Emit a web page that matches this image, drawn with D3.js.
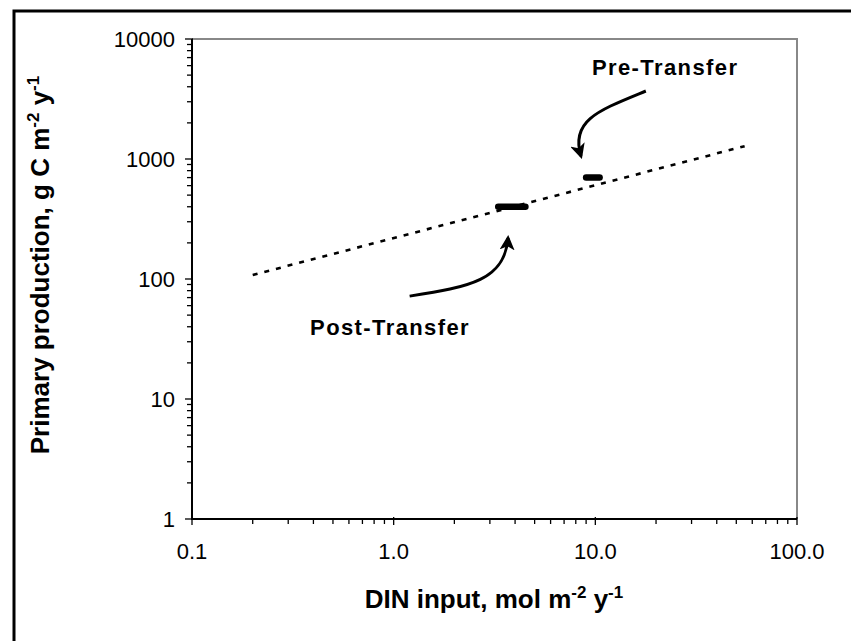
<!DOCTYPE html>
<html>
<head>
<meta charset="utf-8">
<script src="https://cdn.jsdelivr.net/npm/d3@7"></script>
<style>
  html, body { margin: 0; background: #fff; overflow: hidden; }
  svg { display: block; }
  text { font-family: Arial, "Liberation Sans", sans-serif; }
</style>
</head>
<body>
<div id="chart"></div>
<script>
// data
var xTicks = [0.1, 1, 10, 100];
var xTickLabels = ["0.1", "1.0", "10.0", "100.0"];
var yTicks = [1, 10, 100, 1000, 10000];
var yTickLabels = ["1", "10", "100", "1000", "10000"];

// dotted regression line (end points)
var lineDin = [0.2, 55];
var linePP = [108, 1280];

// horizontal bars
var barNames = ["Post-Transfer", "Pre-Transfer"];
var barDinLo = [3.3, 9.0];
var barDinHi = [4.5, 10.5];
var barPP = [400, 700];

// annotation arrows (bezier points in data units)
var postArrowDin = [1.2, 2.39, 3.56, 3.69];
var postArrowPP = [72, 86, 98, 220];
var preArrowDin = [17.8, 10.5, 7.48, 8.49];
var preArrowPP = [3687, 2560, 2113, 1059];

// annotation labels
var labelDin = [0.385, 9.62];
var labelPP = [34, 5012];

var svg = d3.select("#chart").append("svg").attr("width", 851).attr("height", 641);

var plotL = 192, plotR = 797, plotT = 39, plotB = 519;

var x = d3.scaleLog().domain([0.1, 100]).range([plotL, plotR]);
var y = d3.scaleLog().domain([1, 10000]).range([plotB, plotT]);

// outer frame (right & bottom fall outside the picture)
svg.append("rect")
  .attr("x", 14).attr("y", 11)
  .attr("width", 900).attr("height", 700)
  .attr("fill", "none").attr("stroke", "#000").attr("stroke-width", 3);

// plot area border, top and right in grey
svg.append("path")
  .attr("d", "M" + plotL + "," + plotT + "H" + plotR + "V" + plotB)
  .attr("fill", "none").attr("stroke", "#888").attr("stroke-width", 2);

// minor ticks
function minors(lo, hi) {
  var out = [];
  for (var d = lo; d < hi; d *= 10) {
    for (var k = 2; k < 10; k++) out.push(d * k);
  }
  return out;
}

var axes = svg.append("g").attr("stroke", "#000").attr("stroke-width", 1.3);

axes.selectAll(".xminor").data(minors(0.1, 100)).enter().append("line")
  .attr("x1", function(d) { return x(d); }).attr("x2", function(d) { return x(d); })
  .attr("y1", plotB).attr("y2", plotB + 5);
axes.selectAll(".xmajor").data(xTicks).enter().append("line")
  .attr("x1", function(d) { return x(d); }).attr("x2", function(d) { return x(d); })
  .attr("y1", plotB - 2).attr("y2", plotB + 6);

axes.selectAll(".yminor").data(minors(1, 10000)).enter().append("line")
  .attr("y1", function(d) { return y(d); }).attr("y2", function(d) { return y(d); })
  .attr("x1", plotL - 5).attr("x2", plotL);
axes.selectAll(".ymajor").data(yTicks).enter().append("line")
  .attr("y1", function(d) { return y(d); }).attr("y2", function(d) { return y(d); })
  .attr("x1", plotL - 7).attr("x2", plotL + 1);

axes.append("line").attr("x1", plotL).attr("x2", plotL).attr("y1", plotT).attr("y2", plotB + 1)
  .attr("stroke-width", 2);
axes.append("line").attr("x1", plotL - 1).attr("x2", plotR).attr("y1", plotB).attr("y2", plotB)
  .attr("stroke-width", 2);

// tick labels
svg.selectAll(".xlab").data(xTicks).enter().append("text")
  .attr("x", function(d) { return x(d); })
  .attr("y", 559)
  .attr("text-anchor", "middle")
  .attr("font-size", 22)
  .text(function(d, i) { return xTickLabels[i]; });

svg.selectAll(".ylab").data(yTicks).enter().append("text")
  .attr("x", 175)
  .attr("y", function(d) { return y(d); })
  .attr("dy", "0.36em")
  .attr("text-anchor", "end")
  .attr("font-size", 22)
  .text(function(d, i) { return yTickLabels[i]; });

// axis titles
var xt = svg.append("text")
  .attr("x", 494).attr("y", 608)
  .attr("text-anchor", "middle")
  .attr("font-size", 26).attr("font-weight", "bold");
xt.append("tspan").text("DIN input, mol m");
xt.append("tspan").attr("dy", -10).attr("font-size", 17).text("-2");
xt.append("tspan").attr("dy", 10).text(" y");
xt.append("tspan").attr("dy", -10).attr("font-size", 17).text("-1");

var yt = svg.append("text")
  .attr("transform", "translate(49,265) rotate(-90)")
  .attr("text-anchor", "middle")
  .attr("font-size", 26).attr("font-weight", "bold");
yt.append("tspan").text("Primary production, g C m");
yt.append("tspan").attr("dy", -10).attr("font-size", 17).text("-2");
yt.append("tspan").attr("dy", 10).text(" y");
yt.append("tspan").attr("dy", -10).attr("font-size", 17).text("-1");

// dotted line
svg.append("line")
  .attr("x1", x(lineDin[0])).attr("y1", y(linePP[0]))
  .attr("x2", x(lineDin[1])).attr("y2", y(linePP[1]))
  .attr("stroke", "#000").attr("stroke-width", 2.6)
  .attr("stroke-dasharray", "5,7");

// bars
svg.selectAll(".bar").data(barPP).enter().append("line")
  .attr("x1", function(d, i) { return x(barDinLo[i]); })
  .attr("x2", function(d, i) { return x(barDinHi[i]); })
  .attr("y1", function(d) { return y(d); })
  .attr("y2", function(d) { return y(d); })
  .attr("stroke", "#000").attr("stroke-width", 6.5)
  .attr("stroke-linecap", "round");

// arrows
svg.append("defs").append("marker")
  .attr("id", "head")
  .attr("viewBox", "0 -5 10 10")
  .attr("refX", 8).attr("refY", 0)
  .attr("markerWidth", 5).attr("markerHeight", 5)
  .attr("orient", "auto")
  .append("path").attr("d", "M0,-5L10,0L0,5L2.5,0Z").attr("fill", "#000");

function bez(dx, dy) {
  return "M" + x(dx[0]) + "," + y(dy[0]) +
    "C" + x(dx[1]) + "," + y(dy[1]) + " " + x(dx[2]) + "," + y(dy[2]) + " " + x(dx[3]) + "," + y(dy[3]);
}

svg.append("path").attr("d", bez(postArrowDin, postArrowPP))
  .attr("fill", "none").attr("stroke", "#000").attr("stroke-width", 3)
  .attr("marker-end", "url(#head)");
svg.append("path").attr("d", bez(preArrowDin, preArrowPP))
  .attr("fill", "none").attr("stroke", "#000").attr("stroke-width", 3)
  .attr("marker-end", "url(#head)");

// labels
svg.selectAll(".ann").data(barNames).enter().append("text")
  .attr("x", function(d, i) { return x(labelDin[i]); })
  .attr("y", function(d, i) { return y(labelPP[i]); })
  .attr("font-size", 22).attr("font-weight", "bold")
  .attr("letter-spacing", 1.4)
  .text(function(d) { return d; });
</script>
</body>
</html>
